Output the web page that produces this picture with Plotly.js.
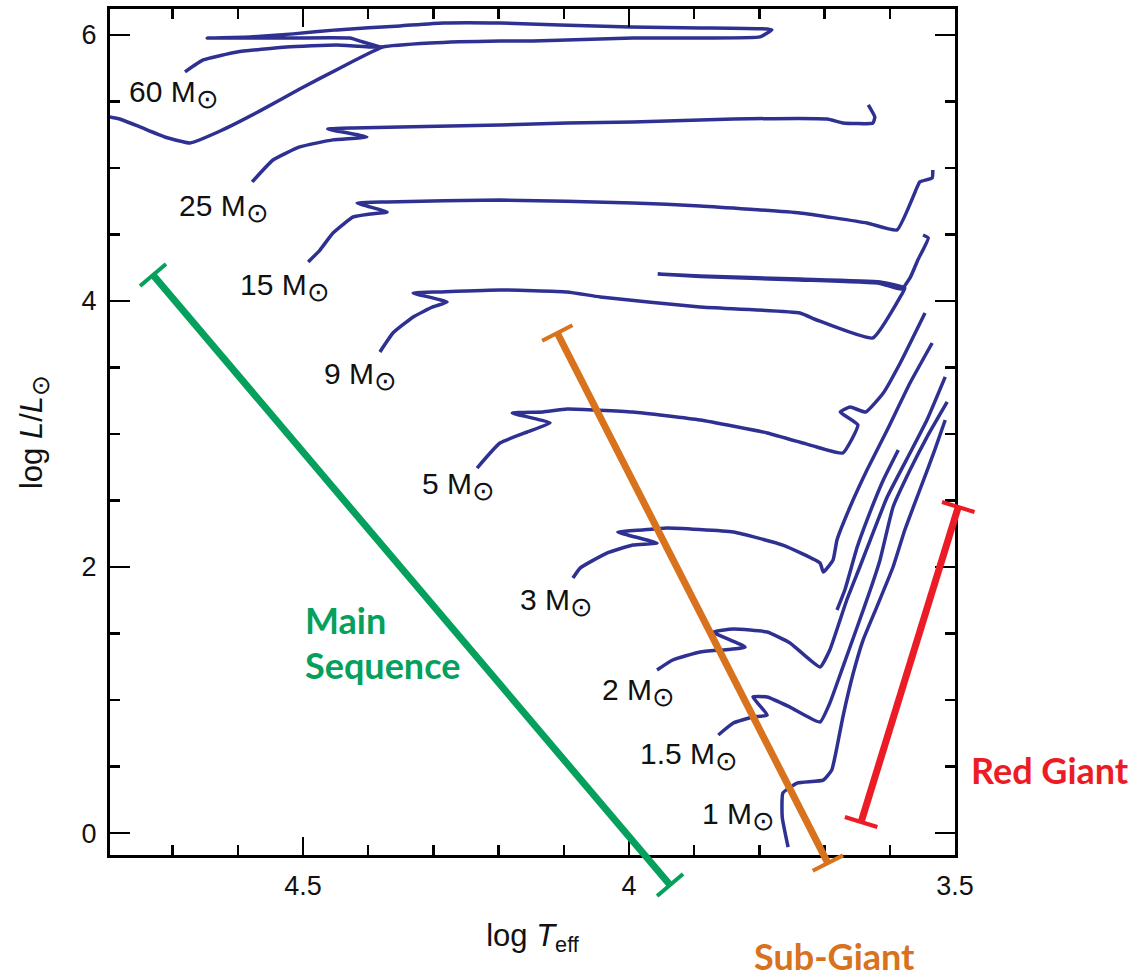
<!DOCTYPE html>
<html>
<head>
<meta charset="utf-8">
<script src="https://cdn.plot.ly/plotly-3.0.1.min.js"></script>
<style>
html,body{margin:0;padding:0;background:#fff;}
#chart{width:1136px;height:978px;}
</style>
</head>
<body>
<div id="chart"></div>
<script>
// ---- Evolutionary tracks: log Teff and log L/Lsun ----
const m60_T = [4.804,4.781,4.750,4.712,4.673,4.627,4.566,4.505,4.443,4.377,4.305,4.198,4.147,3.994,3.891,3.799,3.781,3.788,3.891,3.998,4.106,4.198,4.285,4.351,4.448,4.515,4.581,4.647,4.535,4.428,4.408,4.382];
const m60_L = [5.391,5.368,5.308,5.233,5.188,5.278,5.429,5.594,5.752,5.910,5.940,5.955,5.955,5.977,5.977,5.985,6.038,6.045,6.053,6.060,6.075,6.090,6.090,6.068,6.038,6.008,5.985,5.977,5.977,5.977,5.947,5.910];
const m60b_T = [4.681,4.653,4.601,4.525,4.448,4.397,4.377];
const m60b_L = [5.722,5.812,5.872,5.910,5.925,5.910,5.910];
const m25_T = [4.578,4.546,4.505,4.454,4.402,4.462,4.423,4.351,4.198,4.095,3.994,3.840,3.696,3.672,3.626,3.623,3.633];
const m25_L = [4.895,5.060,5.158,5.211,5.233,5.293,5.301,5.308,5.323,5.338,5.346,5.368,5.368,5.338,5.338,5.383,5.474];
const m15_T = [4.492,4.474,4.454,4.423,4.397,4.371,4.417,4.371,4.198,3.994,3.891,3.738,3.635,3.589,3.558,3.554,3.535,3.534];
const m15_L = [4.293,4.383,4.511,4.632,4.654,4.669,4.737,4.744,4.759,4.737,4.714,4.662,4.586,4.534,4.857,4.895,4.925,4.985];
const m9_T = [4.382,4.362,4.331,4.301,4.279,4.331,4.290,4.198,4.095,4.044,3.891,3.738,3.712,3.626,3.584,3.577,3.615,3.738,3.891,3.956,3.891,3.738,3.615,3.582,3.569,3.557,3.541,3.549];
const m9_L = [3.617,3.759,3.880,3.955,3.992,4.060,4.068,4.083,4.068,4.030,3.955,3.910,3.857,3.722,4.030,4.098,4.143,4.165,4.188,4.203,4.184,4.158,4.132,4.090,4.173,4.308,4.474,4.496];
const m5_T = [4.233,4.198,4.156,4.121,4.179,4.132,4.095,3.994,3.891,3.788,3.712,3.672,3.649,3.676,3.661,3.637,3.610,3.584,3.546];
const m5_L = [2.744,2.932,3.015,3.083,3.158,3.165,3.188,3.165,3.105,3.008,2.902,2.857,3.068,3.165,3.203,3.165,3.308,3.534,3.910];
const m3_T = [4.086,4.075,4.034,3.994,3.957,4.017,3.979,3.942,3.840,3.764,3.707,3.702,3.687,3.681,3.661,3.635,3.604,3.569,3.535];
const m3_L = [1.917,1.992,2.105,2.165,2.180,2.263,2.278,2.293,2.263,2.165,2.030,1.962,2.053,2.203,2.451,2.729,3.030,3.383,3.684];
const m2_T = [3.957,3.933,3.891,3.822,3.871,3.840,3.788,3.753,3.707,3.692,3.666,3.646,3.630,3.604,3.569,3.543,3.515];
const m2_L = [1.226,1.301,1.361,1.398,1.511,1.534,1.511,1.429,1.248,1.376,1.752,2.000,2.203,2.526,2.857,3.105,3.429];
const m1p5_T = [3.863,3.840,3.810,3.788,3.810,3.788,3.753,3.707,3.692,3.672,3.650,3.630,3.615,3.595,3.569,3.543,3.512];
const m1p5_L = [0.737,0.827,0.872,0.887,1.023,1.023,0.947,0.835,0.977,1.248,1.549,1.827,2.053,2.451,2.729,2.977,3.241];
const m1_T = [3.756,3.765,3.764,3.742,3.702,3.689,3.681,3.672,3.656,3.641,3.620,3.595,3.577,3.554,3.531,3.515];
const m1_L = [-0.105,0.120,0.301,0.376,0.398,0.474,0.647,0.872,1.203,1.451,1.699,2.000,2.278,2.579,2.880,3.105];
const clump_T = [3.681,3.669,3.650,3.635,3.610,3.587];
const clump_L = [1.677,1.827,2.150,2.353,2.654,2.880];

// Track labels (mass, label anchor in log Teff / log L)
const massLabels = ['60','25','15','9','5','3','2','1.5','1'];
const labelT = [4.770,4.693,4.600,4.471,4.321,4.170,4.045,3.986,3.891];
const labelL = [5.549,4.699,4.098,3.429,2.602,1.737,1.060,0.579,0.128];

// Phase brackets: [start logT, start logL, end logT, end logL]
const phaseNames = ['Main Sequence','Sub-Giant','Red Giant'];
const phaseT0 = [4.730, 4.110, 3.495];
const phaseL0 = [4.195, 3.759, 2.451];
const phaseT1 = [3.937, 3.695, 3.644];
const phaseL1 = [-0.391, -0.226, 0.083];
const phaseColors = ['#04a05c','#d8721d','#ec1c26'];

const trackColor = '#2e3192';
const tracks = [
  [m60_T,m60_L],[m60b_T,m60b_L],[m25_T,m25_L],[m15_T,m15_L],[m9_T,m9_L],
  [m5_T,m5_L],[m3_T,m3_L],[m2_T,m2_L],[m1p5_T,m1p5_L],[m1_T,m1_L],[clump_T,clump_L]
];
const data = tracks.map(t => ({
  type:'scatter', mode:'lines', x:t[0], y:t[1],
  line:{color:trackColor, width:3.5, shape:'spline', smoothing:0.4},
  hoverinfo:'skip', showlegend:false
}));

const sunSub = '<sub><span style="font-size:27px">⊙</span></sub>';
const labelFont = {family:'Liberation Sans, Arial, sans-serif', size:30, color:'#111'};
const annotations = massLabels.map((m,i) => ({
  xref:'x', yref:'y', x:labelT[i], y:labelL[i], xanchor:'left', yanchor:'middle',
  text: m + ' M' + sunSub, showarrow:false, font:labelFont
}));

const axisFont = {family:'Liberation Sans, Arial, sans-serif', size:27, color:'#111'};
const titleFont = {family:'Liberation Sans, Arial, sans-serif', size:31, color:'#111'};
const layout = {
  width:1136, height:978,
  margin:{l:110, r:181, t:9, b:123},
  paper_bgcolor:'#fff', plot_bgcolor:'#fff',
  showlegend:false,
  xaxis:{
    range:[4.796, 3.5], tick0:3.5, dtick:0.5, ticks:'inside', ticklen:18, tickwidth:2.5, tickcolor:'#000',
    minor:{dtick:0.1, ticks:'inside', ticklen:10, tickwidth:2.5, tickcolor:'#000', showgrid:false},
    showline:true, linewidth:3, linecolor:'#000', mirror:'ticks', showgrid:false, zeroline:false,
    tickfont:axisFont, ticklabelstandoff:5,
    title:{text:'log <i>T</i><sub>eff</sub>', font:titleFont, standoff:24}
  },
  yaxis:{
    range:[-0.165, 6.195], tick0:0, dtick:2, ticks:'inside', ticklen:20, tickwidth:2.5, tickcolor:'#000',
    minor:{dtick:0.5, ticks:'inside', ticklen:10, tickwidth:2.5, tickcolor:'#000', showgrid:false},
    showline:true, linewidth:3, linecolor:'#000', mirror:'ticks', showgrid:false, zeroline:false,
    tickfont:axisFont, ticklabelstandoff:5,
    title:{text:'log <i>L</i>/<i>L</i><sub><span style="font-size:25px">⊙</span></sub>', font:titleFont, standoff:30}
  },
  annotations: annotations
};

Plotly.newPlot('chart', data, layout, {staticPlot:true}).then(gd => {
  const fl = gd._fullLayout, xa = fl.xaxis, ya = fl.yaxis, s = fl._size;
  const toPx = (t,l) => [xa._offset + xa.d2p(t), ya._offset + ya.d2p(l)];
  const toPaper = (p) => [(p[0]-s.l)/s.w, 1-(p[1]-s.t)/s.h];
  const shapes = [];
  const capHalf = 17;
  for (let i=0;i<phaseNames.length;i++){
    const a = toPx(phaseT0[i], phaseL0[i]), b = toPx(phaseT1[i], phaseL1[i]);
    const dx=b[0]-a[0], dy=b[1]-a[1], len=Math.hypot(dx,dy);
    const nx=-dy/len*capHalf, ny=dx/len*capHalf;
    const segs = [[a,b],[[a[0]-nx,a[1]-ny],[a[0]+nx,a[1]+ny]],[[b[0]-nx,b[1]-ny],[b[0]+nx,b[1]+ny]]];
    segs.forEach((sg,k) => {
      const p0=toPaper(sg[0]), p1=toPaper(sg[1]);
      shapes.push({type:'line', xref:'paper', yref:'paper', x0:p0[0], y0:p0[1], x1:p1[0], y1:p1[1],
        line:{color:phaseColors[i], width:k===0?7:4}, layer:'above'});
    });
  }
  const phaseFont = (c) => ({family:'Lato, Open Sans, sans-serif', size:36, color:c, weight:'bold'});
  const extra = [
    {xref:'paper', yref:'paper', x:0.228, y:(855-620)/846, xanchor:'left', yanchor:'middle', align:'left',
     text:'<b>Main</b>', showarrow:false, font:phaseFont(phaseColors[0])},
    {xref:'paper', yref:'paper', x:0.228, y:(855-665)/846, xanchor:'left', yanchor:'middle', align:'left',
     text:'<b>Sequence</b>', showarrow:false, font:phaseFont(phaseColors[0])},
    {xref:'paper', yref:'paper', x:0.857, y:(855-956)/846, xanchor:'center', yanchor:'middle',
     text:'<b>Sub-Giant</b>', showarrow:false, font:phaseFont(phaseColors[1])},
    {xref:'paper', yref:'paper', x:1.112, y:0.100, xanchor:'center', yanchor:'middle',
     text:'<b>Red Giant</b>', showarrow:false, font:phaseFont(phaseColors[2])}
  ];
  return Plotly.relayout(gd, {shapes: shapes, annotations: annotations.concat(extra)});
});
</script>
</body>
</html>
